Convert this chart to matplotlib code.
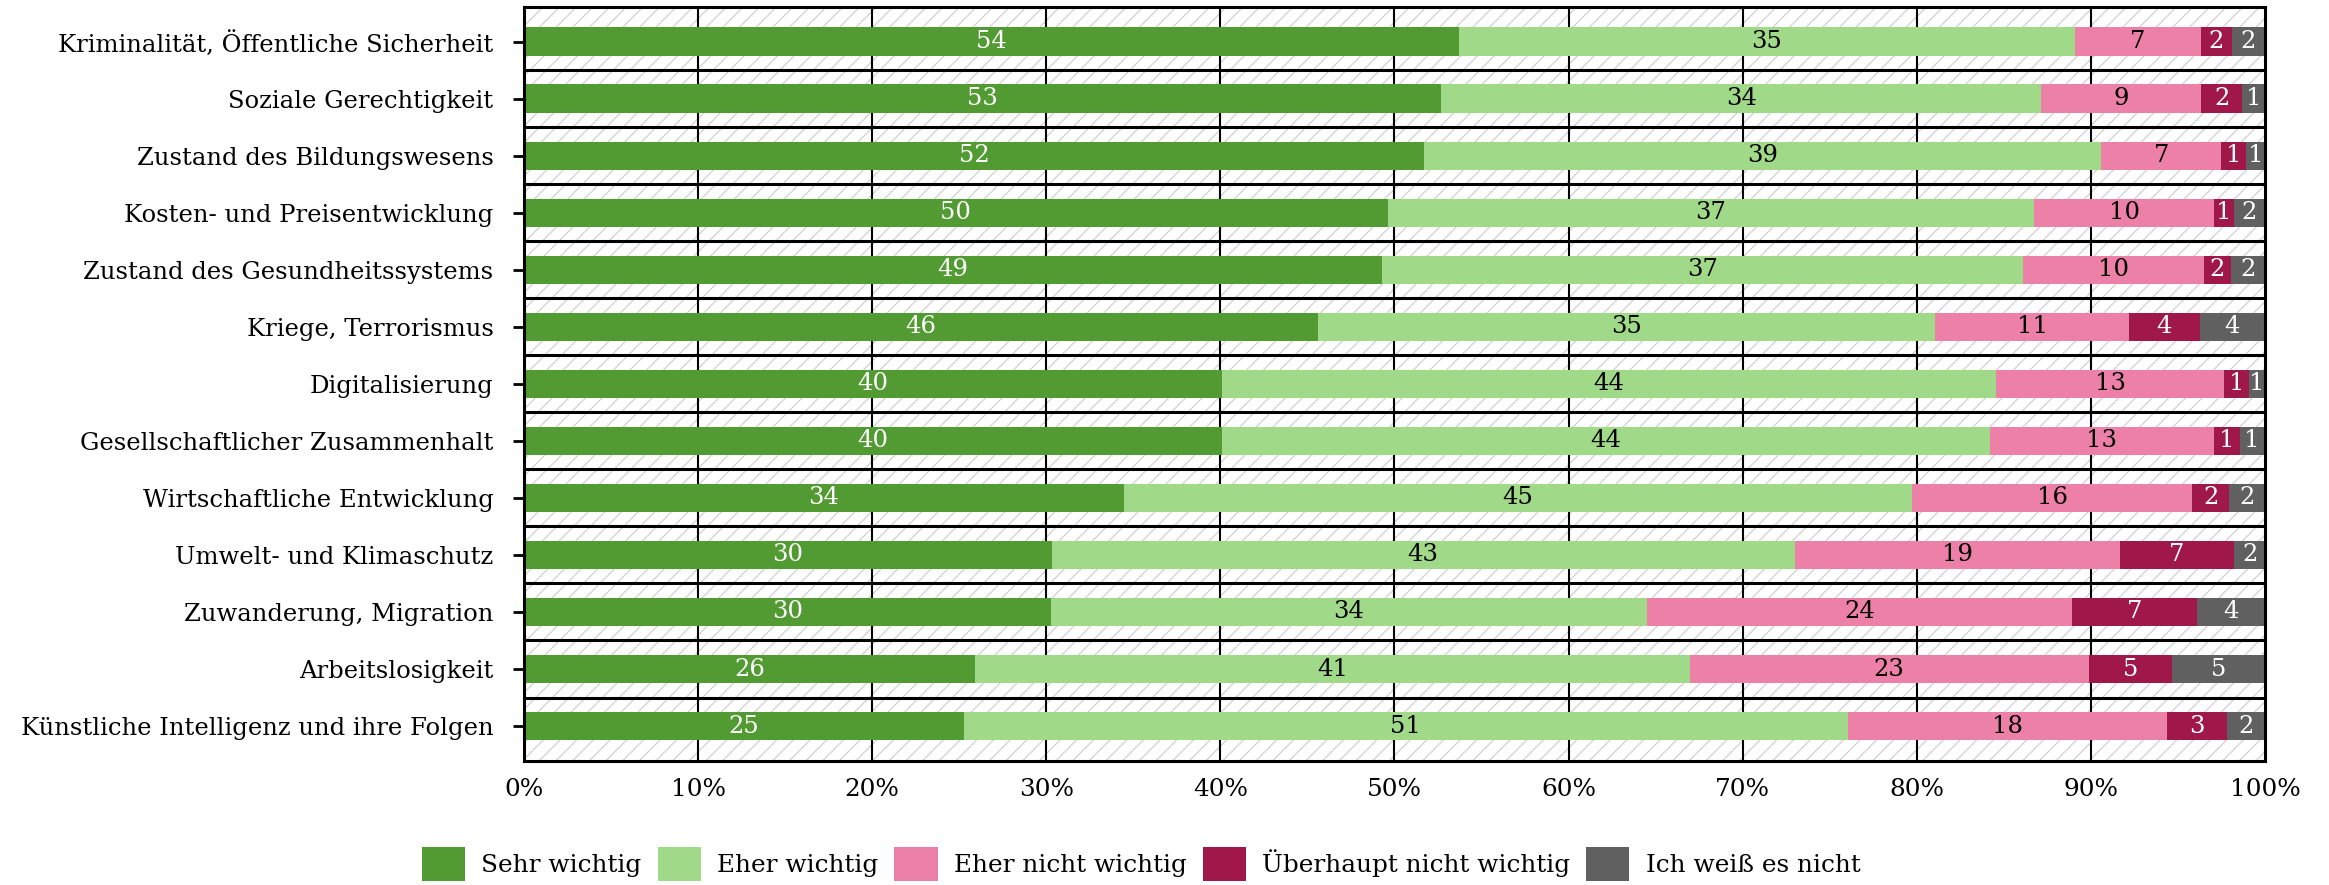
import numpy as np
import matplotlib.pyplot as plt
from matplotlib.patches import Rectangle

plt.rcParams["font.family"] = ["DejaVu Serif"]
plt.rcParams["hatch.linewidth"] = 0.8

categories = [
    "Kriminalität, Öffentliche Sicherheit",
    "Soziale Gerechtigkeit",
    "Zustand des Bildungswesens",
    "Kosten- und Preisentwicklung",
    "Zustand des Gesundheitssystems",
    "Kriege, Terrorismus",
    "Digitalisierung",
    "Gesellschaftlicher Zusammenhalt",
    "Wirtschaftliche Entwicklung",
    "Umwelt- und Klimaschutz",
    "Zuwanderung, Migration",
    "Arbeitslosigkeit",
    "Künstliche Intelligenz und ihre Folgen",
]

sehr_wichtig = [53.7, 52.7, 51.7, 49.6, 49.3, 45.6, 40.1, 40.1, 34.46, 30.3, 30.27, 25.92, 25.26]
eher_wichtig = [35.4, 34.45, 38.9, 37.15, 36.8, 35.45, 44.45, 44.1, 45.27, 42.7, 34.22, 41.05, 50.77]
eher_nicht_wichtig = [7.2, 9.2, 6.9, 10.35, 10.4, 11.15, 13.1, 12.86, 16.1, 18.65, 24.45, 22.9, 18.35]
ueberhaupt_nicht_wichtig = [1.8, 2.35, 1.4, 1.1, 1.55, 4.05, 1.45, 1.48, 2.1, 6.6, 7.15, 4.8, 3.45]
weiss_nicht = [1.9, 1.3, 1.1, 1.8, 1.95, 3.75, 0.9, 1.46, 2.07, 1.75, 3.9, 5.35, 2.17]

series_names = ["Sehr wichtig", "Eher wichtig", "Eher nicht wichtig",
                "Überhaupt nicht wichtig", "Ich weiß es nicht"]
series = [sehr_wichtig, eher_wichtig, eher_nicht_wichtig,
          ueberhaupt_nicht_wichtig, weiss_nicht]
colors = ["#529a32", "#a0d987", "#ec80a6", "#a0184a", "#606060"]
text_colors = ["white", "black", "black", "white", "white"]

fig = plt.figure(figsize=(23.29, 8.85), dpi=100)
ax = fig.add_axes([0.225, 0.140, 0.7475, 0.8525])

y = np.arange(len(categories))
n = len(categories)
pad = 0.115
ax.set_ylim(n - 0.5 + pad, -0.5 - pad)
ax.set_xlim(0, 100)

# hatched background
ax.add_patch(Rectangle((0, -0.5 - pad), 100, n + 2 * pad, facecolor="white",
                       edgecolor="#cccccc", hatch="//", linewidth=0, zorder=0))

for xv in range(10, 100, 10):
    ax.axvline(xv, color="black", lw=1.5, zorder=1)
for k in range(n - 1):
    ax.axhline(k + 0.5, color="black", lw=2.2, zorder=1)

left = np.zeros(n)
for name, vals, col, tcol in zip(series_names, series, colors, text_colors):
    vals = np.array(vals)
    ax.barh(y, vals, left=left, height=0.5, color=col, label=name, zorder=2)
    for yi, l, v in zip(y, left, vals):
        ax.text(l + v / 2, yi, f"{v:.0f}", ha="center", va="center",
                color=tcol, fontsize=17.5, zorder=3)
    left += vals

ax.set_yticks(y)
ax.set_yticklabels(categories, fontsize=17.5)
ax.set_xticks(range(0, 101, 10))
ax.set_xticklabels([f"{t}%" for t in range(0, 101, 10)], fontsize=17.8)
ax.tick_params(axis="y", length=8, width=2, pad=14)
ax.tick_params(axis="x", length=0, pad=12)
for sp in ax.spines.values():
    sp.set_linewidth(2.2)
    sp.set_zorder(4)

fig.legend(loc="center", bbox_to_anchor=(0.49, 0.024), ncol=5, frameon=False,
           fontsize=17.8, handlelength=1.75, handleheight=1.75,
           handletextpad=0.65, columnspacing=0.65)

fig.savefig("out.png", dpi=100)
